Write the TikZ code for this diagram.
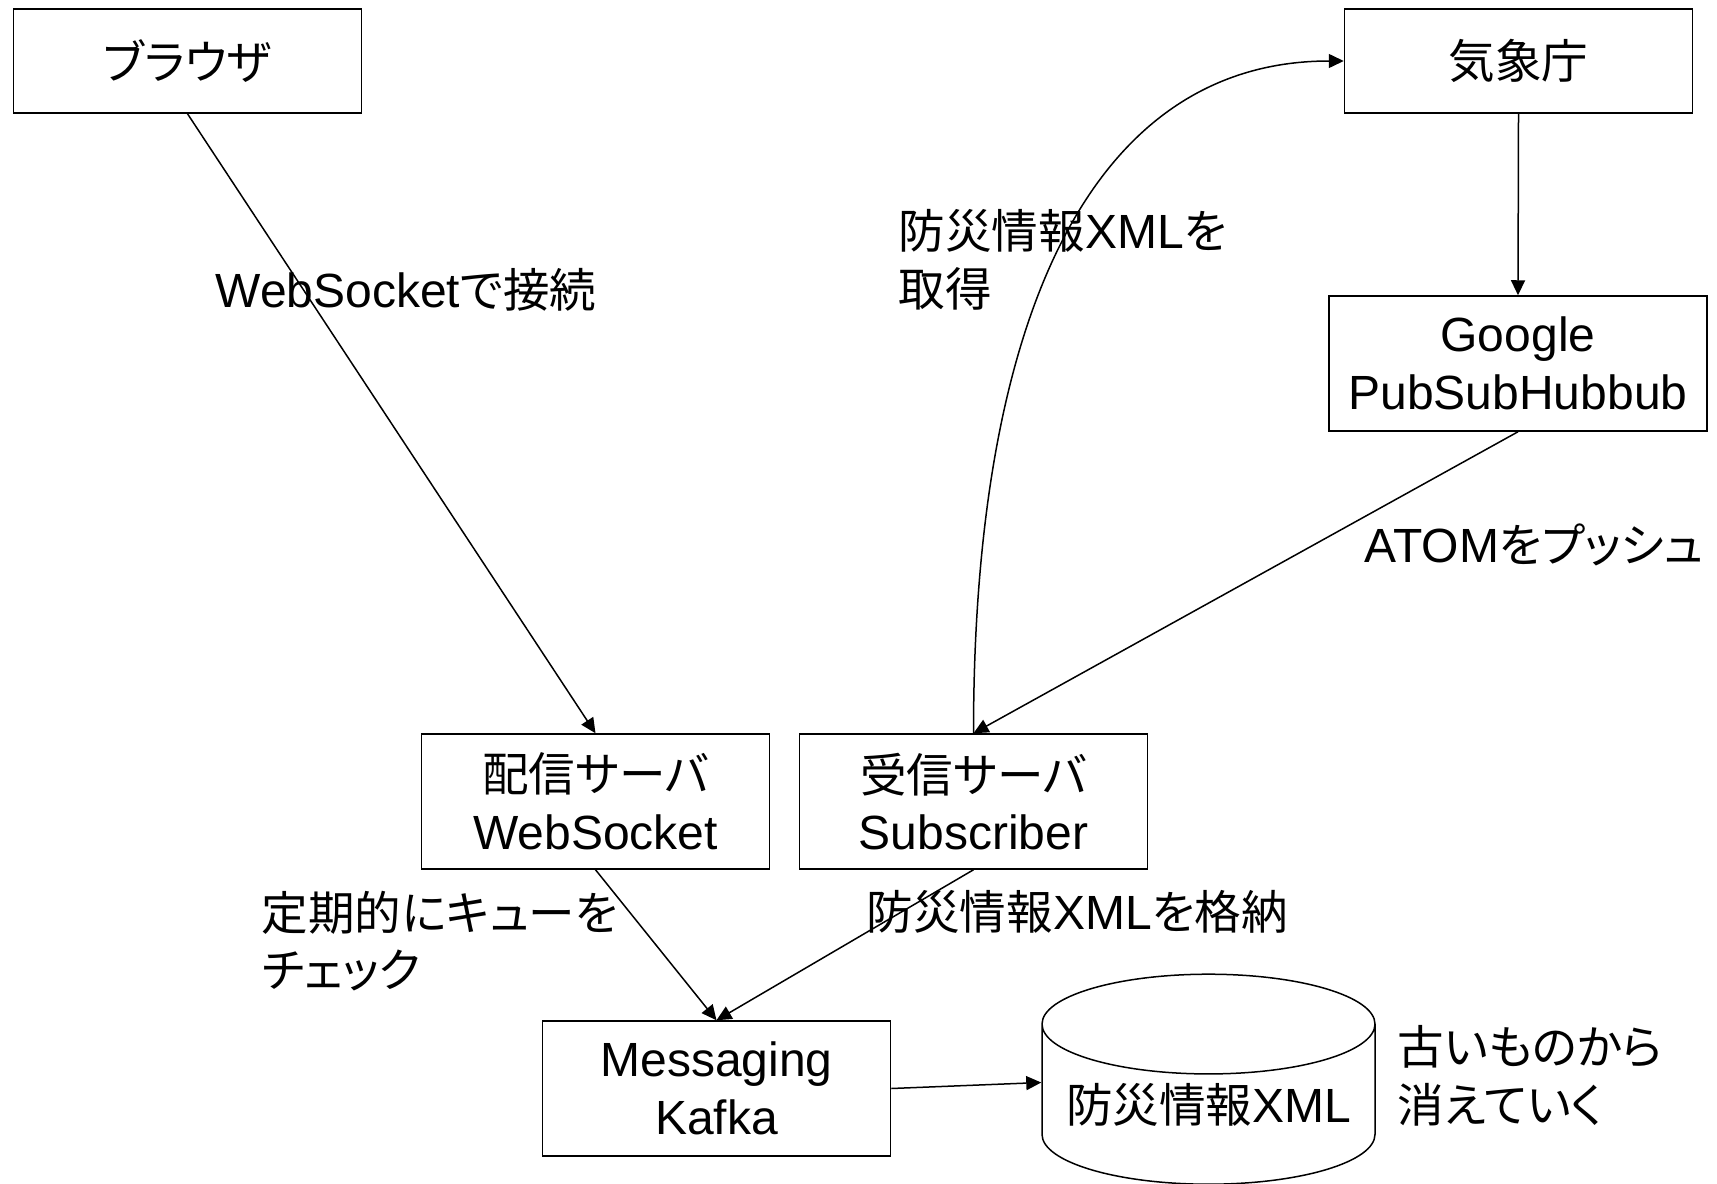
\documentclass[tikz,border=0pt]{standalone}
\usepackage{fontspec}
\setmainfont{Liberation Sans}
\newfontfamily\jpfont[Scale=0.97,RawFeature=+palt]{Noto Sans CJK JP}
\newcommand{\ja}[1]{{\jpfont #1}}
\usetikzlibrary{positioning,shapes.geometric,arrows.meta}

\begin{document}
\begin{tikzpicture}[x=0.5pt,y=-0.5pt,line width=0.75pt,
  every node/.style={font=\fontsize{24}{28.8}\selectfont},
  box/.style={draw, align=center, inner sep=0pt, minimum width=174pt, minimum height=67.5pt},
  note/.style={align=left, anchor=west, inner sep=0pt},
  arr/.style={-{Triangle[length=7.5pt,width=7pt]}}]
  \useasboundingbox (0,0) rectangle (1717,1183);

  \node[box, minimum height=52pt] (browser) at (187.5,61) {\ja{ブラウザ}};
  \node[box, minimum height=52pt] (jma) at (1518.5,61) {\ja{気象庁}};
  \node[box, minimum width=189pt] (hub) at (1518,363.5) {Google\\PubSubHubbub};
  \node[box] (ws) at (595.5,801.5) {\ja{配信サーバ}\\WebSocket};
  \node[box] (sub) at (973.5,801.5) {\ja{受信サーバ}\\Subscriber};
  \node[box] (kafka) at (716.5,1088.5) {Messaging\\Kafka};
  \node[draw, cylinder, shape border rotate=90, aspect=0.35, inner sep=0pt,
        minimum width=166.5pt, minimum height=105pt] (db) at (1208.5,1104.5) {\ja{防災情報}XML};

  \node[note] (l1) at (215,290) {WebSocket\ja{で接続}};
  \node[note] (l2) at (898,260) {\ja{防災情報}XML\ja{を}\\\ja{取得}};
  \node[note] (l3) at (1364,545) {ATOM\ja{をプッシュ}};
  \node[note] (l4) at (261,941) {\ja{定期的にキューを}\\\ja{チェック}};
  \node[note] (l5) at (866,912) {\ja{防災情報}XML\ja{を格納}};
  \node[note] (l6) at (1397,1076) {\ja{古いものから}\\\ja{消えていく}};

  \draw[arr] (browser.south) -- (ws.north);
  \draw[arr] (jma.south) -- (hub.north);
  \draw[arr] (hub.south) -- (sub.north);
  \draw[arr] (sub.north) .. controls (973.5,300) and (1100,61) .. (jma.west);
  \draw[arr] (ws.south) -- (kafka.north);
  \draw[arr] (sub.south) -- (kafka.north);
  \draw[arr] (kafka.east) -- ([yshift=11pt]db.west);
\end{tikzpicture}
\end{document}
